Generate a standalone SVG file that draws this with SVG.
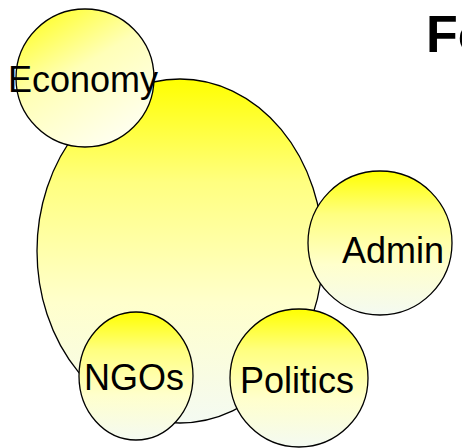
<svg xmlns="http://www.w3.org/2000/svg" width="462" height="448" viewBox="0 0 462 448">
<defs>
<linearGradient id="gv" x1="0" y1="0" x2="0" y2="1">
<stop offset="0" stop-color="#ffff00"/>
<stop offset="0.3" stop-color="#ffff80"/>
<stop offset="0.65" stop-color="#ffffcc"/>
<stop offset="1" stop-color="#f4faf2"/>
</linearGradient>
<linearGradient id="gd" x1="0.15" y1="0" x2="0.75" y2="1">
<stop offset="0" stop-color="#ffff20"/>
<stop offset="0.45" stop-color="#ffffb8"/>
<stop offset="1" stop-color="#fffff4"/>
</linearGradient>
<style>
.s{stroke:#000;stroke-width:1.3}
.t{font-family:"Liberation Sans",Arial,sans-serif;font-size:36px;fill:#000}
</style>
</defs>
<rect width="462" height="448" fill="#fff"/>
<text x="426" y="52" font-family="Liberation Sans,Arial,sans-serif" font-size="52" font-weight="bold" fill="#000">Fo</text>
<g id="main"><ellipse class="s" cx="180" cy="251" rx="143" ry="172" fill="url(#gv)"/></g>
<g id="economy"><circle class="s" cx="85" cy="78" r="69" fill="url(#gd)"/><text class="t" x="8" y="92">Economy</text></g>
<g id="admin"><circle class="s" cx="380" cy="243" r="72" fill="url(#gv)"/><text class="t" x="342" y="263">Admin</text></g>
<g id="ngos"><ellipse class="s" cx="136" cy="376" rx="57" ry="64" fill="url(#gv)"/><text class="t" x="84" y="390">NGOs</text></g>
<g id="politics"><circle class="s" cx="299" cy="378" r="69" fill="url(#gv)"/><text class="t" x="240" y="393">Politics</text></g>
<g id="connectors"></g>
</svg>
